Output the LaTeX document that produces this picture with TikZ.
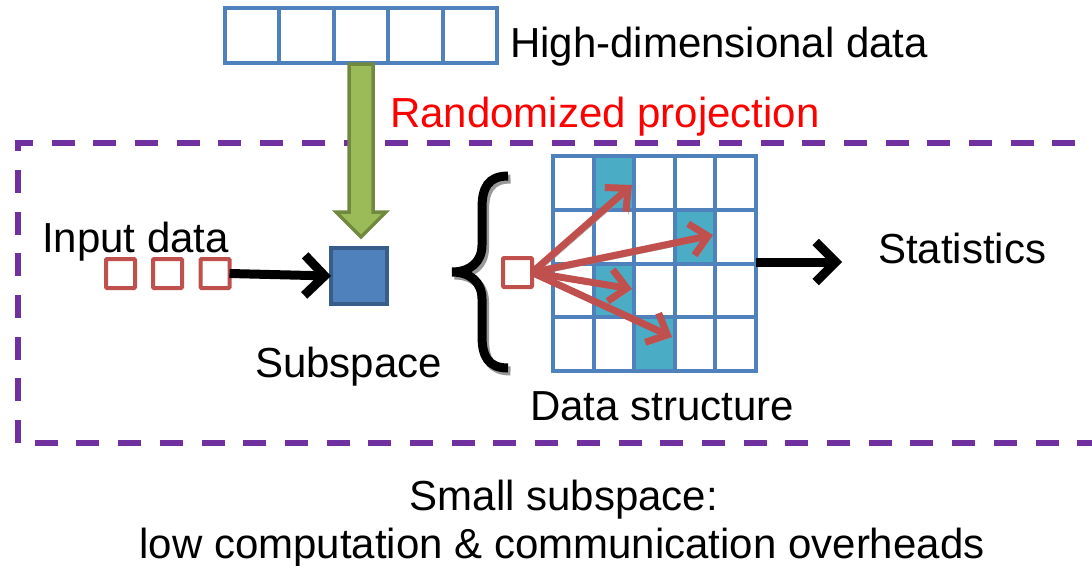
\documentclass[tikz,border=0pt]{standalone}
\usepackage{fontspec}
\setmainfont{Liberation Sans}
\usetikzlibrary{arrows.meta}
\definecolor{cblue}{HTML}{4F81BD}
\definecolor{cblued}{HTML}{385D8A}
\definecolor{cred}{HTML}{C0504D}
\definecolor{cteal}{HTML}{4BACC6}
\definecolor{cgreen}{HTML}{9BBB59}
\definecolor{cgreend}{HTML}{71893F}
\definecolor{cpurple}{HTML}{7030A0}
\begin{document}
\begin{tikzpicture}[x=1pt,y=-1pt,
  lbl/.style={font=\fontsize{42}{50}\selectfont, inner sep=0pt, outer sep=0pt},
  topcell/.style={draw=cblue, line width=4pt, fill=white, minimum width=54.4pt, minimum height=55pt, inner sep=0pt, outer sep=0pt},
  gcell/.style={draw=cblue, line width=4pt, minimum width=40.6pt, minimum height=53.75pt, inner sep=0pt, outer sep=0pt},
  inbox/.style={draw=cred, line width=4pt, fill=white, minimum size=29pt, inner sep=0pt, outer sep=0pt, rounded corners=1pt},
  dropshadow/.style={preaction={draw=black!40, transform canvas={shift={(2.5,3)}}}},
  blackarrow/.style={draw=black, line width=9pt, -{Straight Barb[length=20pt, width=40pt]}, dropshadow},
  redarrow/.style={draw=cred, line width=7pt, -{Straight Barb[length=17pt, width=32pt]}, dropshadow},
  boxline/.style={draw=cpurple, line width=6pt, dash pattern=on 23pt off 18.7pt},
]
\useasboundingbox (0,0) rectangle (1092,565);

% dashed frame
\draw[boxline] (18,443) -- (18,143) -- (1130,143);
\draw[boxline, dash phase=25pt] (18,443) -- (1130,443);

% high-dimensional data row
\foreach \i in {0,...,4}
  \node[topcell] (h\i) at ({225+54.4*(\i+0.5)},35) {};
\node[lbl, anchor=base west] (hd) at (510,57) {High-dimensional data};

% green projection arrow
\draw[fill=cgreen, draw=cgreend, line width=3.5pt, line join=miter]
  (349,64) -- (373,64) -- (373,212) -- (386,212) -- (361,237) -- (336,212) -- (349,212) -- cycle;
\node[lbl, anchor=base west, text=red] (rp) at (390,127) {Randomized projection};

% input data
\node[lbl, anchor=base west] (id) at (42,252) {Input data};
\node[inbox] (in1) at (120.5,273.5) {};
\node[inbox] (in2) at (167.5,273.5) {};
\node[inbox] (in3) at (215,273.5) {};

% subspace
\node[draw=cblued, fill=cblue, line width=4pt, minimum size=56pt, inner sep=0pt, outer sep=0pt] (sub) at (359,276) {};
\node[lbl, anchor=base west] (ss) at (255,377) {Subspace};
\draw[blackarrow] (in3.east) -- (sub.west);

% brace
\draw[black!40, line width=9pt, transform canvas={shift={(2.5,3)}}]
  (508,176) .. controls (488,176) and (482,188) .. (482,208) -- (482,245)
  .. controls (482,262) and (470,272) .. (452,272)
  .. controls (470,272) and (482,282) .. (482,299) -- (482,336)
  .. controls (482,356) and (488,368) .. (508,368);
\draw[black, line width=9pt]
  (508,176) .. controls (488,176) and (482,188) .. (482,208) -- (482,245)
  .. controls (482,262) and (470,272) .. (452,272)
  .. controls (470,272) and (482,282) .. (482,299) -- (482,336)
  .. controls (482,356) and (488,368) .. (508,368);

% data structure grid
\foreach \c/\r in {1/0,3/1,1/2,2/3}
  \fill[cteal] ({553+40.6*\c},{156+53.75*\r}) rectangle ++(40.6,53.75);
\foreach \c in {0,...,4}
  \foreach \r in {0,...,3}
    \node[gcell] (g\c\r) at ({553+40.6*\c+20.3},{156+53.75*\r+26.875}) {};
\node[minimum width=203pt, minimum height=215pt, inner sep=0pt, outer sep=0pt] (grid) at (654.5,263.5) {};
\node[lbl, anchor=base west] (ds) at (530,420) {Data structure};

% query box and arrows
\node[inbox] (q) at (517.5,272.5) {};
\coordinate (t1) at (632,185);
\coordinate (t2) at (713,235);
\coordinate (t3) at (632,289);
\coordinate (t4) at (672,337);
\draw[redarrow] (q.east) -- (t1);
\draw[redarrow] (q.east) -- (t2);
\draw[redarrow] (q.east) -- (t3);
\draw[redarrow] (q.east) -- (t4);

% statistics
\coordinate (se) at (842,262);
\draw[blackarrow] (grid.east |- se) -- (se);
\node[lbl, anchor=base west] (st) at (878,263) {Statistics};

% bottom text
\node[lbl, anchor=base] (b1) at (564,510) {Small subspace:};
\node[lbl, anchor=base] (b2) at (562,558) {low computation \& communication overheads};
\end{tikzpicture}
\end{document}
